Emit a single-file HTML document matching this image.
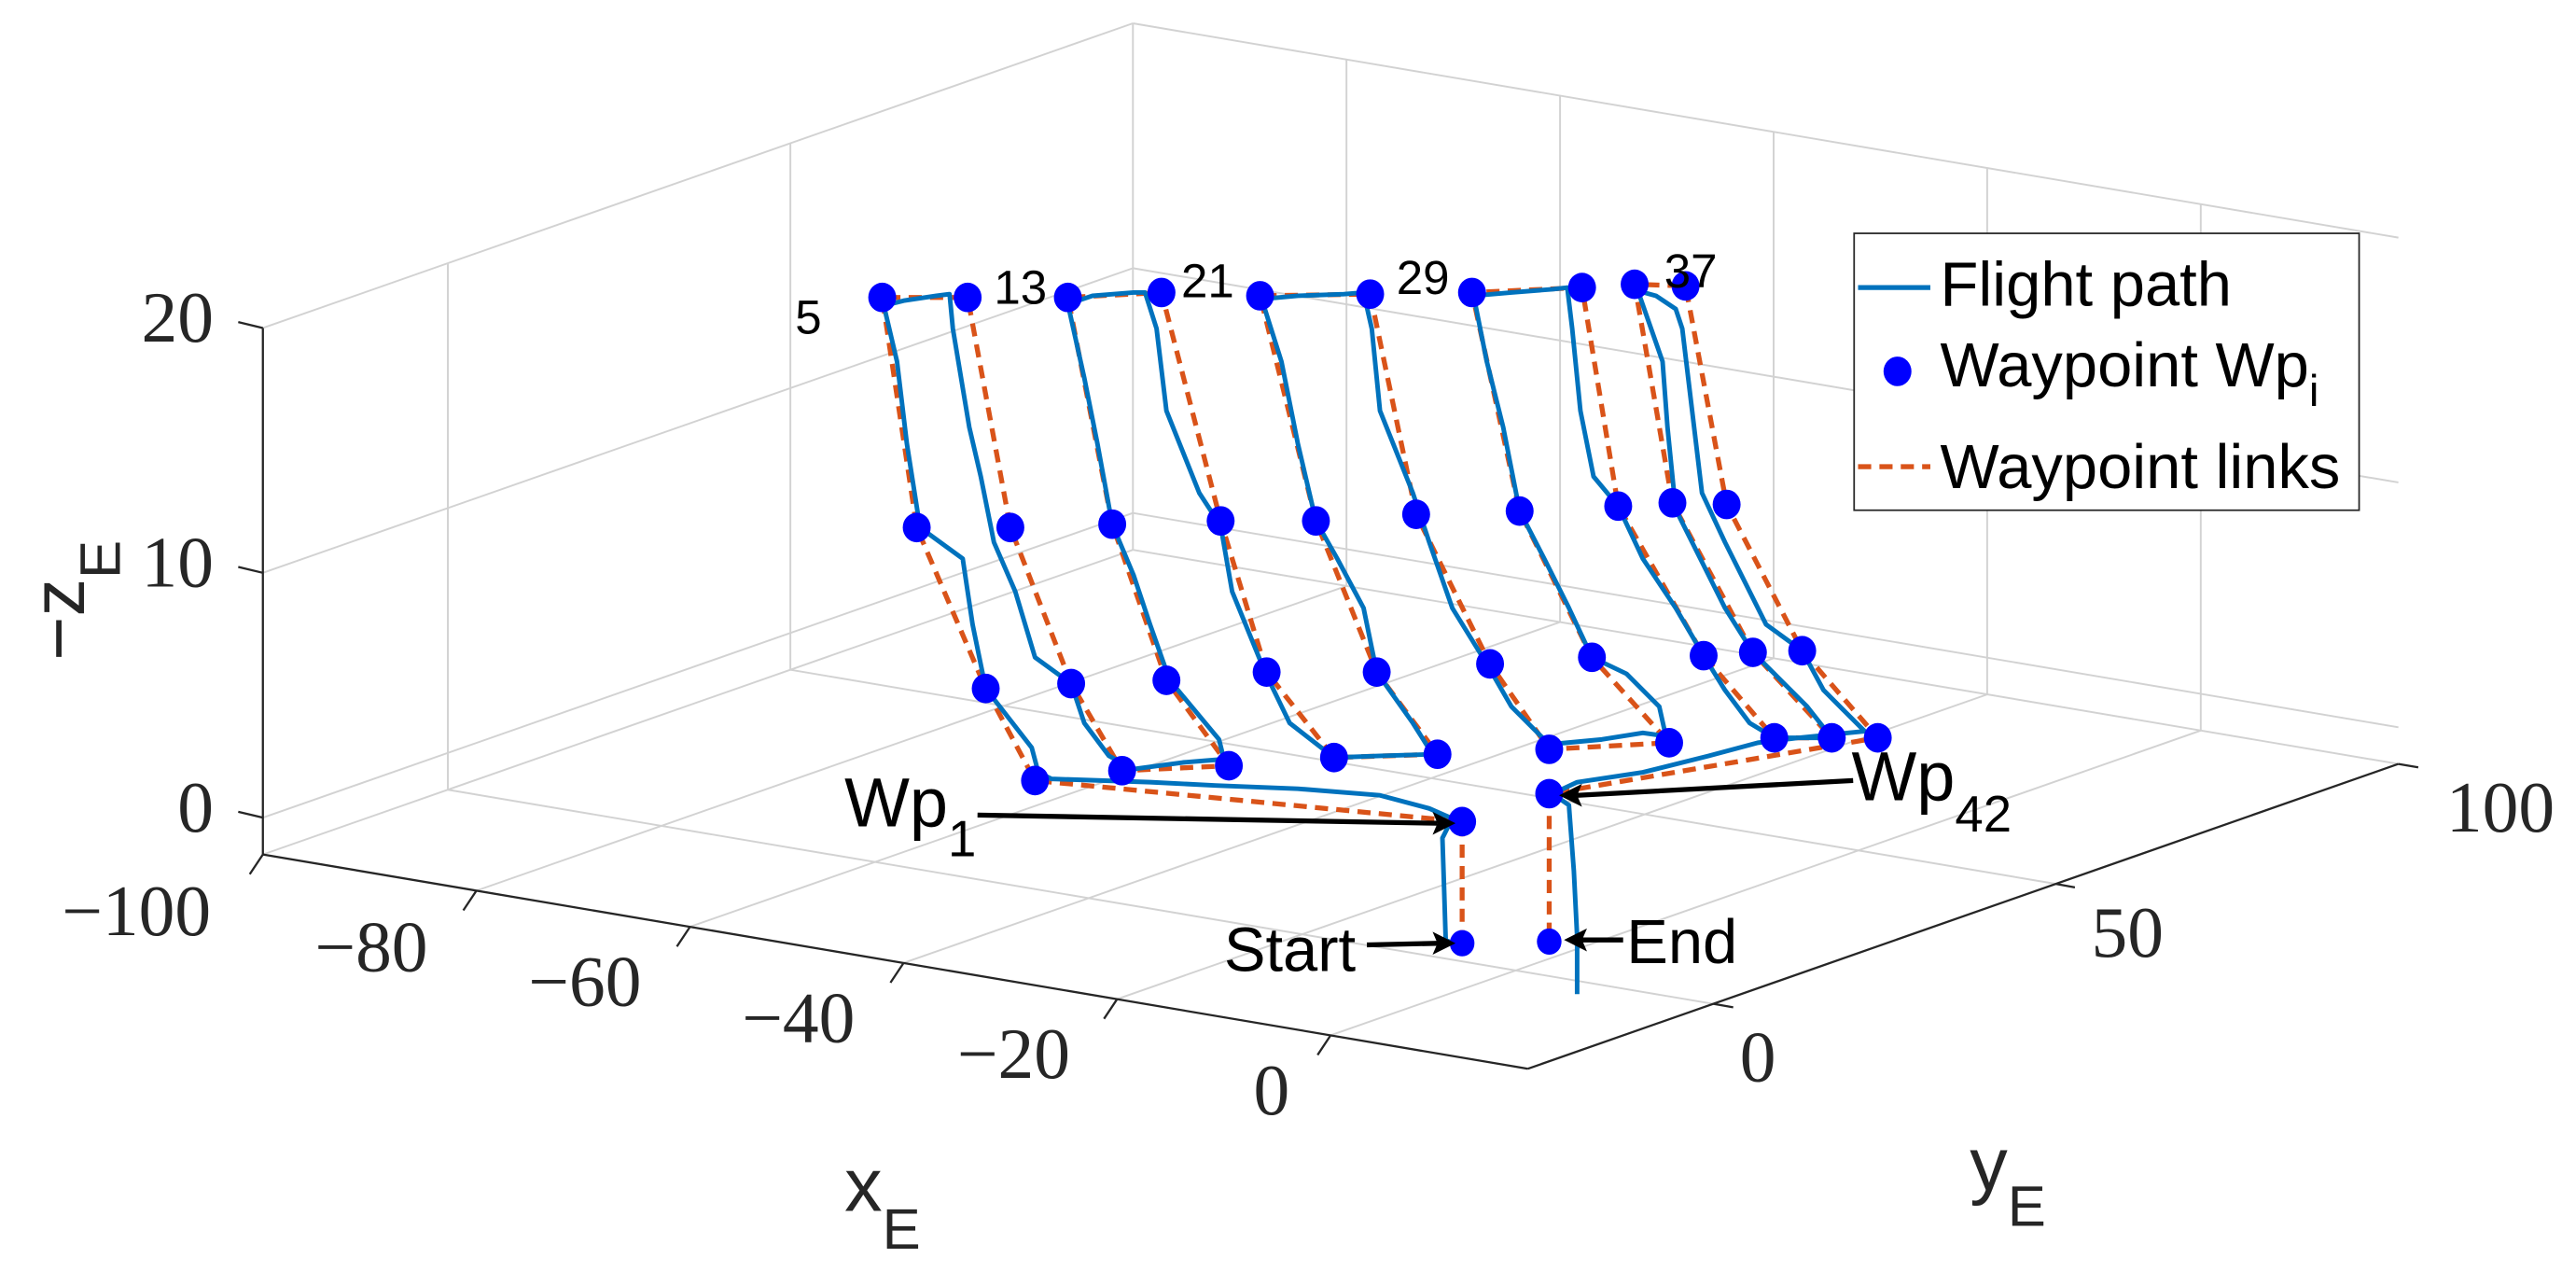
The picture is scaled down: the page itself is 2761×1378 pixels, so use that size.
<!DOCTYPE html>
<html><head><meta charset="utf-8"><style>
html,body{margin:0;padding:0;background:#fff;}
svg{display:block;}
</style></head><body>
<svg width="2761" height="1378" viewBox="0 0 1568 782.6" xmlns="http://www.w3.org/2000/svg">
<rect width="1568" height="782.6" fill="#fff"/>
<g stroke="#d2d2d2" stroke-width="1.1" fill="none">
<line x1="160" y1="497.6" x2="689.6" y2="312.2"/>
<line x1="160" y1="348.6" x2="689.6" y2="163.2"/>
<line x1="160" y1="199.6" x2="689.6" y2="14.2"/>
<line x1="272.6" y1="480.6" x2="272.6" y2="160.2"/>
<line x1="481.1" y1="407.6" x2="481.1" y2="87.2"/>
<line x1="689.6" y1="334.6" x2="689.6" y2="14.2"/>
<line x1="689.6" y1="312.2" x2="1459.9" y2="442.6"/>
<line x1="689.6" y1="163.2" x2="1459.9" y2="293.6"/>
<line x1="689.6" y1="14.2" x2="1459.9" y2="144.6"/>
<line x1="819.6" y1="356.6" x2="819.6" y2="36.2"/>
<line x1="949.6" y1="378.6" x2="949.6" y2="58.2"/>
<line x1="1079.6" y1="400.6" x2="1079.6" y2="80.2"/>
<line x1="1209.6" y1="422.6" x2="1209.6" y2="102.2"/>
<line x1="1339.6" y1="444.6" x2="1339.6" y2="124.2"/>
<line x1="160" y1="520" x2="689.6" y2="334.6"/>
<line x1="290" y1="542" x2="819.6" y2="356.6"/>
<line x1="420" y1="564" x2="949.6" y2="378.6"/>
<line x1="550" y1="586" x2="1079.6" y2="400.6"/>
<line x1="680" y1="608" x2="1209.6" y2="422.6"/>
<line x1="810" y1="630" x2="1339.6" y2="444.6"/>
<line x1="272.6" y1="480.6" x2="1042.9" y2="610.9"/>
<line x1="481.1" y1="407.6" x2="1251.4" y2="537.9"/>
<line x1="689.6" y1="334.6" x2="1459.9" y2="464.9"/>
</g>
<g stroke="#262626" stroke-width="1.3" fill="none">
<line x1="160" y1="520" x2="930" y2="650.4"/>
<line x1="930" y1="650.4" x2="1459.9" y2="464.9"/>
<line x1="160" y1="520" x2="160" y2="199.6"/>
<line x1="160" y1="199.6" x2="145" y2="196"/>
<line x1="160" y1="348.6" x2="145" y2="345"/>
<line x1="160" y1="497.6" x2="145" y2="494"/>
<line x1="160" y1="520" x2="152" y2="532"/>
<line x1="290" y1="542" x2="282" y2="554"/>
<line x1="420" y1="564" x2="412" y2="576"/>
<line x1="550" y1="586" x2="542" y2="598"/>
<line x1="680" y1="608" x2="672" y2="620"/>
<line x1="810" y1="630" x2="802" y2="642"/>
<line x1="1042.9" y1="610.9" x2="1055" y2="613"/>
<line x1="1251.4" y1="537.9" x2="1263" y2="540"/>
<line x1="1459.9" y1="464.9" x2="1472" y2="467"/>
</g>
<g font-family="Liberation Serif, serif" font-size="44" fill="#262626">
<text x="130" y="208" text-anchor="end">20</text>
<text x="130" y="357" text-anchor="end">10</text>
<text x="130" y="506" text-anchor="end">0</text>
<text x="83" y="569" text-anchor="middle">−100</text>
<text x="226" y="591" text-anchor="middle">−80</text>
<text x="356" y="612" text-anchor="middle">−60</text>
<text x="486" y="634" text-anchor="middle">−40</text>
<text x="617" y="656" text-anchor="middle">−20</text>
<text x="774" y="678" text-anchor="middle">0</text>
<text x="1070" y="658" text-anchor="middle">0</text>
<text x="1295" y="582" text-anchor="middle">50</text>
<text x="1522" y="506" text-anchor="middle">100</text>
</g>
<g font-family="Liberation Sans, sans-serif" fill="#262626">
<text x="514" y="737" font-size="46">x<tspan font-size="35" dy="23">E</tspan></text>
<text x="1199" y="724" font-size="46">y<tspan font-size="35" dy="22">E</tspan></text>
<text transform="translate(51,402) rotate(-90)" font-size="46">−z<tspan font-size="35" dy="22">E</tspan></text>
</g>
<polyline fill="none" stroke="#D95319" stroke-width="3" stroke-dasharray="8,5" points="890,574 890,500 630,475 600,419 558,321 537,181 589,181 615,321 652,416 683,469 748,466 710,414 677,319 650,181 707,178 743,317 771,409 812,461 875,459 838,409 801,317 767,180 834,179 862,313 907,404 943,456 1016,452 969,400 925,311 896,178 963,175 985,308 1037,399 1080,449 1115,449 1067,397 1018,306 995,173 1026,174 1051,307 1097,396 1143,449 943,483 943,573"/>
<polyline fill="none" stroke="#0072BD" stroke-width="2.8" stroke-linejoin="round" points="884,574 880,572 879,540 878,510 882,502 886,499 870,492 840,484 790,480 740,478 700,476 640,474 632,470 628,455 600,419 592,380 586,340 560,321 552,270 546,220 538,186 550,183 570,180 578,179 580,200 585,230 590,260 597,290 605,330 618,360 630,400 652,416 660,440 675,460 690,468 720,464 745,462 742,450 712,414 700,380 690,350 677,319 668,270 660,230 650,185 665,180 690,178 697,178 704,200 710,250 730,300 743,320 750,360 770,409 785,440 812,461 840,460 872,459 860,440 838,409 830,370 814,340 801,317 790,270 780,220 768,182 790,180 818,179 830,178 835,200 840,250 860,300 870,330 884,370 905,404 920,430 943,453 975,450 1000,446 1014,448 1010,430 990,410 969,400 955,370 940,340 925,311 915,260 905,220 897,180 920,178 945,176 954,175 957,200 962,250 970,290 985,308 1000,340 1020,370 1037,399 1050,420 1065,440 1080,449 1115,449 1100,430 1080,410 1067,397 1050,370 1035,340 1020,310 1015,260 1012,220 997,177 1008,180 1020,188 1024,200 1030,250 1036,300 1050,330 1060,350 1075,380 1097,396 1110,420 1135,445 1125,446 1095,449 1070,452 1040,460 1000,470 960,476 945,483 955,490 958,530 960,570 960,590 960,605"/>
<g fill="#0000FF">
<ellipse cx="890" cy="500" rx="8.5" ry="9"/><ellipse cx="630" cy="475" rx="8.5" ry="9"/><ellipse cx="600" cy="419" rx="8.5" ry="9"/><ellipse cx="558" cy="321" rx="8.5" ry="9"/><ellipse cx="537" cy="181" rx="8.5" ry="9"/><ellipse cx="589" cy="181" rx="8.5" ry="9"/><ellipse cx="615" cy="321" rx="8.5" ry="9"/><ellipse cx="652" cy="416" rx="8.5" ry="9"/><ellipse cx="683" cy="469" rx="8.5" ry="9"/><ellipse cx="748" cy="466" rx="8.5" ry="9"/><ellipse cx="710" cy="414" rx="8.5" ry="9"/><ellipse cx="677" cy="319" rx="8.5" ry="9"/><ellipse cx="650" cy="181" rx="8.5" ry="9"/><ellipse cx="707" cy="178" rx="8.5" ry="9"/><ellipse cx="743" cy="317" rx="8.5" ry="9"/><ellipse cx="771" cy="409" rx="8.5" ry="9"/><ellipse cx="812" cy="461" rx="8.5" ry="9"/><ellipse cx="875" cy="459" rx="8.5" ry="9"/><ellipse cx="838" cy="409" rx="8.5" ry="9"/><ellipse cx="801" cy="317" rx="8.5" ry="9"/><ellipse cx="767" cy="180" rx="8.5" ry="9"/><ellipse cx="834" cy="179" rx="8.5" ry="9"/><ellipse cx="862" cy="313" rx="8.5" ry="9"/><ellipse cx="907" cy="404" rx="8.5" ry="9"/><ellipse cx="943" cy="456" rx="8.5" ry="9"/><ellipse cx="1016" cy="452" rx="8.5" ry="9"/><ellipse cx="969" cy="400" rx="8.5" ry="9"/><ellipse cx="925" cy="311" rx="8.5" ry="9"/><ellipse cx="896" cy="178" rx="8.5" ry="9"/><ellipse cx="963" cy="175" rx="8.5" ry="9"/><ellipse cx="985" cy="308" rx="8.5" ry="9"/><ellipse cx="1037" cy="399" rx="8.5" ry="9"/><ellipse cx="1080" cy="449" rx="8.5" ry="9"/><ellipse cx="1115" cy="449" rx="8.5" ry="9"/><ellipse cx="1067" cy="397" rx="8.5" ry="9"/><ellipse cx="1018" cy="306" rx="8.5" ry="9"/><ellipse cx="995" cy="173" rx="8.5" ry="9"/><ellipse cx="1026" cy="174" rx="8.5" ry="9"/><ellipse cx="1051" cy="307" rx="8.5" ry="9"/><ellipse cx="1097" cy="396" rx="8.5" ry="9"/><ellipse cx="1143" cy="449" rx="8.5" ry="9"/><ellipse cx="943" cy="483" rx="8.5" ry="9"/><ellipse cx="890" cy="574" rx="7.5" ry="8"/><ellipse cx="943" cy="573" rx="7.5" ry="8"/>
</g>
<g font-family="Liberation Sans, sans-serif" fill="#000">
<text x="484" y="203" font-size="29">5</text>
<text x="605" y="185" font-size="29">13</text>
<text x="719" y="181" font-size="29">21</text>
<text x="850" y="179" font-size="29">29</text>
<text x="1013" y="175" font-size="29">37</text>
<text x="514" y="503" font-size="42">Wp<tspan font-size="31" dy="18">1</tspan></text>
<text x="1127" y="487" font-size="42">Wp<tspan font-size="31" dy="19">42</tspan></text>
<text x="745" y="591" font-size="38">Start</text>
<text x="990" y="586" font-size="38">End</text>
</g>
<g stroke="#000" stroke-width="3" fill="none">
<line x1="595" y1="496" x2="875" y2="501"/>
<line x1="1128" y1="475" x2="960" y2="484"/>
<line x1="832" y1="575" x2="878" y2="574"/>
<line x1="988" y1="572" x2="960" y2="572"/>
</g>
<g fill="#000">
<polygon points="886,501 872,494 875,501 872,508"/>
<polygon points="949,484 963,477 960,484 963,491"/>
<polygon points="886,574 872,567 875,574 872,581"/>
<polygon points="952,572 966,565 963,572 966,579"/>
</g>
<rect x="1128.6" y="142" width="307.4" height="168.5" fill="#fff" stroke="#262626" stroke-width="1"/>
<line x1="1131" y1="175" x2="1175" y2="175" stroke="#0072BD" stroke-width="3"/>
<ellipse cx="1155" cy="226" rx="8.5" ry="9" fill="#0000FF"/>
<line x1="1131" y1="284" x2="1175" y2="284" stroke="#D95319" stroke-width="3" stroke-dasharray="8,5"/>
<g font-family="Liberation Sans, sans-serif" font-size="38" fill="#000">
<text x="1181" y="186">Flight path</text>
<text x="1181" y="235">Waypoint Wp<tspan font-size="27" dy="12">i</tspan></text>
<text x="1181" y="297">Waypoint links</text>
</g>
</svg>
</body></html>
